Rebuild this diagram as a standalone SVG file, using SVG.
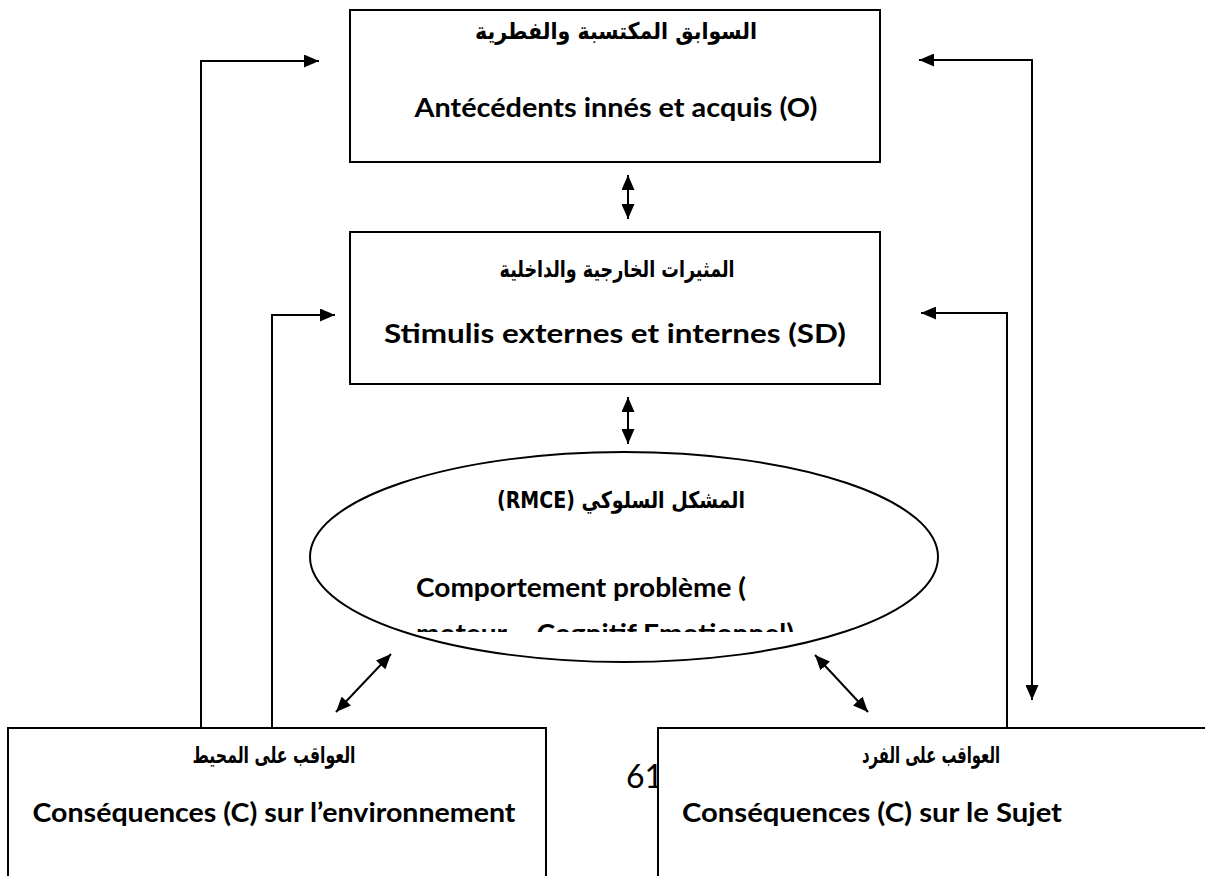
<svg xmlns="http://www.w3.org/2000/svg" width="1205" height="876" viewBox="0 0 1205 876">
  <style>
    .box { fill: #ffffff; stroke: #000000; stroke-width: 2; }
    .fr { font-family: Lato, "Open Sans", "Liberation Sans", sans-serif; font-weight: bold; font-size: 27px; fill: #000; text-anchor: middle; }
    .ar { font-family: "DejaVu Sans", "Noto Sans", sans-serif; font-weight: bold; font-size: 23px; fill: #000; text-anchor: middle; }
    .start { text-anchor: start; }
    .link { fill: none; stroke: #000; stroke-width: 2; }
    .num { font-family: Lato, "Liberation Sans", sans-serif; font-size: 32px; fill: #000; }
  </style>
  <defs>
    <marker id="head" viewBox="0 0 15 13" refX="15" refY="6.5" markerWidth="15" markerHeight="13" markerUnits="userSpaceOnUse" orient="auto-start-reverse">
      <path d="M0,0 L15,6.5 L0,13 z" fill="#000"/>
    </marker>
    <clipPath id="cut-line">
      <rect x="380" y="560" width="460" height="72"/>
    </clipPath>
  </defs>

  <rect width="1205" height="876" fill="#ffffff"/>

  <!-- page number sitting behind the right consequence box -->
  <text class="num" x="626" y="788">61</text>

  <!-- antecedents -->
  <g id="antecedents">
    <rect class="box" x="350" y="10" width="530" height="152"/>
    <text class="ar" x="616" y="39" direction="rtl" textLength="282" lengthAdjust="spacingAndGlyphs">السوابق المكتسبة والفطرية</text>
    <text class="fr" x="616" y="117" textLength="403" lengthAdjust="spacingAndGlyphs">Antécédents innés et acquis (O)</text>
  </g>

  <!-- stimuli -->
  <g id="stimuli">
    <rect class="box" x="350" y="232" width="530" height="152"/>
    <text class="ar" x="617" y="277" direction="rtl" textLength="235" lengthAdjust="spacingAndGlyphs">المثيرات الخارجية والداخلية</text>
    <text class="fr" x="615" y="343" textLength="462" lengthAdjust="spacingAndGlyphs">Stimulis externes et internes (SD)</text>
  </g>

  <!-- problem behaviour -->
  <g id="behaviour">
    <ellipse class="box" cx="624" cy="557" rx="314" ry="105"/>
    <text class="ar" x="621" y="508" direction="rtl" textLength="248" lengthAdjust="spacingAndGlyphs">المشكل السلوكي (RMCE)</text>
    <text class="fr start" x="416" y="597" textLength="330" lengthAdjust="spacingAndGlyphs">Comportement problème (</text>
    <text class="fr start" x="416" y="643" textLength="378" lengthAdjust="spacingAndGlyphs" clip-path="url(#cut-line)">moteur – Cognitif Emotionnel)</text>
  </g>

  <!-- consequences on the environment -->
  <g id="environment">
    <rect class="box" x="8" y="728" width="538" height="160"/>
    <text class="ar" x="274" y="763" direction="rtl" textLength="163" lengthAdjust="spacingAndGlyphs">العواقب على المحيط</text>
    <text class="fr" x="274" y="822" textLength="483" lengthAdjust="spacingAndGlyphs">Conséquences (C) sur l’environnement</text>
  </g>

  <!-- consequences on the subject -->
  <g id="subject">
    <path class="box" d="M1210,728 H658 V890"/>
    <text class="ar" x="931" y="763" direction="rtl" textLength="138" lengthAdjust="spacingAndGlyphs">العواقب على الفرد</text>
    <text class="fr" x="872" y="822" textLength="380" lengthAdjust="spacingAndGlyphs">Conséquences (C) sur le Sujet</text>
  </g>

  <!-- connectors -->
  <g id="connectors">
    <path class="link" d="M201,728 V61 H319" marker-end="url(#head)"/>
    <path class="link" d="M272,728 V315 H335" marker-end="url(#head)"/>
    <path class="link" d="M919,60 H1032 V700" marker-start="url(#head)" marker-end="url(#head)"/>
    <path class="link" d="M921,313 H1007 V728" marker-start="url(#head)"/>
    <path class="link" d="M628,175 V219" marker-start="url(#head)" marker-end="url(#head)"/>
    <path class="link" d="M628,397 V444" marker-start="url(#head)" marker-end="url(#head)"/>
    <path class="link" d="M336,712 L391,654" marker-start="url(#head)" marker-end="url(#head)"/>
    <path class="link" d="M815,655 L868,712" marker-start="url(#head)" marker-end="url(#head)"/>
  </g>
</svg>
